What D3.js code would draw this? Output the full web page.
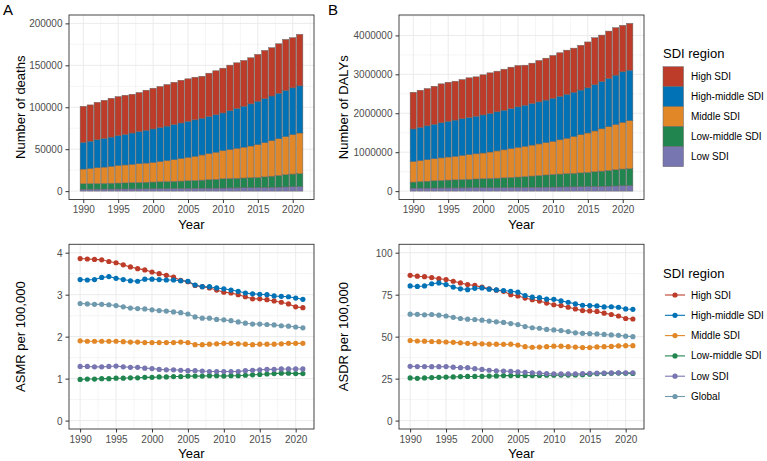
<!DOCTYPE html>
<html lang="en">
<head>
    <meta charset="UTF-8">
    <title>SDI region burden</title>
    <style>
        body { margin: 0; background: #fff; }
        text { font-family: "Liberation Sans", Arial, sans-serif; }
        .tick text { fill: #4d4d4d; font-size: 10px; }
        .tick line { stroke: #333; }
        .axis-title { font-size: 13px; fill: #000; }
    </style>
    <script src="https://d3js.org/d3.v7.min.js"></script>
</head>
<body>
    <svg width="767" height="461"></svg>
    <script>
        // Categories
        const years = [1990, 1991, 1992, 1993, 1994, 1995, 1996, 1997, 1998, 1999, 2000, 2001, 2002, 2003, 2004, 2005,
                       2006, 2007, 2008, 2009, 2010, 2011, 2012, 2013, 2014, 2015, 2016, 2017, 2018, 2019, 2020, 2021];
        const regions = ["High SDI", "High-middle SDI", "Middle SDI", "Low-middle SDI", "Low SDI"];
        const lineRegions = ["High SDI", "High-middle SDI", "Middle SDI", "Low-middle SDI", "Low SDI", "Global"];
        const colors = ["#BC3C29", "#0072B5", "#E18727", "#20854E", "#7876B1", "#6F99AD"];

        // Panel A: number of deaths
        const deathsHigh = [43000, 43250, 44700, 45550, 46300, 46600, 46700, 46250, 46600, 47750, 48600, 48900, 49600, 50450, 50950, 50700,
                            50800, 50100, 51700, 52500, 53400, 54400, 54500, 54600, 55000, 55950, 57500, 57600, 59100, 60900, 59800, 61400];
        const deathsHighMiddle = [31800, 32500, 33300, 34100, 34800, 35500, 36400, 37300, 38200, 39100, 39900, 40500, 41100, 41800, 42400, 43000,
                                  43400, 43800, 44200, 44600, 45000, 46200, 47500, 48800, 50200, 51700, 52500, 53300, 54100, 55000, 55800, 56200];
        const deathsMiddle = [17600, 18200, 18900, 19500, 20200, 21000, 21400, 21900, 22400, 22900, 23400, 24200, 25000, 25900, 26900, 27900,
                              28900, 30000, 31100, 32300, 33500, 34600, 35700, 36800, 37900, 39100, 40700, 42300, 43900, 45500, 47000, 48600];
        const deathsLowMiddle = [6400, 6500, 6600, 6700, 6900, 7050, 7200, 7400, 7600, 7800, 8000, 8200, 8400, 8600, 8850, 9100,
                                 9400, 9700, 10100, 10500, 11000, 11200, 11400, 11600, 11800, 12000, 12600, 13200, 13800, 14500, 15100, 15300];
        const deathsLow = [2300, 2350, 2400, 2450, 2500, 2550, 2600, 2650, 2700, 2750, 2800, 2900, 3000, 3050, 3100, 3200,
                           3300, 3400, 3500, 3600, 3700, 3800, 3900, 4000, 4100, 4250, 4400, 4600, 4800, 5000, 5200, 5400];

        // Panel B: number of DALYs
        const dalysHigh = [943000, 954000, 958000, 976000, 1001000, 1004000, 998000, 1009000, 1020000, 1011000, 1031000, 1044000, 1045000, 1055000, 1065000, 1063000,
                           1029000, 1038000, 1064000, 1077000, 1100000, 1119000, 1136000, 1132000, 1150000, 1179000, 1208000, 1194000, 1216000, 1219000, 1193000, 1203000];
        const dalysHighMiddle = [835000, 852000, 868000, 885000, 901000, 917000, 929000, 941000, 953000, 966000, 978000, 990000, 1003000, 1016000, 1028000, 1041000,
                                 1054000, 1067000, 1080000, 1094000, 1107000, 1117000, 1127000, 1138000, 1148000, 1159000, 1186000, 1213000, 1240000, 1268000, 1298000, 1295000];
        const dalysMiddle = [530000, 542000, 555000, 568000, 580000, 593000, 606000, 620000, 634000, 648000, 662000, 680000, 700000, 720000, 740000, 762000,
                             778000, 795000, 812000, 830000, 850000, 880000, 910000, 945000, 980000, 1015000, 1050000, 1088000, 1125000, 1163000, 1200000, 1237000];
        const dalysLowMiddle = [155000, 165000, 175000, 185000, 193000, 201000, 207000, 213000, 219000, 225000, 230000, 237000, 244000, 251000, 259000, 267000,
                                278000, 289000, 300000, 312000, 324000, 332000, 340000, 348000, 355000, 363000, 376000, 389000, 402000, 415000, 428000, 430000];
        const dalysLow = [77000, 78000, 79000, 80000, 81000, 82000, 83000, 84000, 85000, 86000, 87000, 88000, 89000, 90000, 92000, 94000,
                          96000, 98000, 100000, 102000, 104000, 106000, 108000, 110000, 113000, 116000, 120000, 124000, 128000, 133000, 139000, 144000];

        // Panel C: ASMR per 100,000
        const asmrHigh = [3.86, 3.85, 3.84, 3.83, 3.79, 3.76, 3.71, 3.66, 3.62, 3.59, 3.54, 3.50, 3.46, 3.42, 3.34, 3.31,
                          3.22, 3.19, 3.16, 3.11, 3.06, 3.04, 3.00, 2.95, 2.90, 2.90, 2.88, 2.85, 2.82, 2.78, 2.71, 2.69];
        const asmrHighMiddle = [3.36, 3.35, 3.36, 3.41, 3.43, 3.39, 3.36, 3.33, 3.32, 3.37, 3.37, 3.36, 3.35, 3.35, 3.33, 3.32,
                                3.23, 3.19, 3.19, 3.16, 3.14, 3.11, 3.08, 3.04, 3.02, 3.01, 3.00, 2.97, 2.96, 2.95, 2.92, 2.89];
        const asmrMiddle = [1.90, 1.89, 1.89, 1.89, 1.89, 1.89, 1.88, 1.87, 1.87, 1.86, 1.86, 1.86, 1.86, 1.86, 1.87, 1.86,
                            1.81, 1.81, 1.82, 1.83, 1.84, 1.84, 1.83, 1.82, 1.81, 1.82, 1.82, 1.82, 1.83, 1.84, 1.84, 1.84];
        const asmrLowMiddle = [0.98, 0.99, 0.99, 1.00, 1.00, 1.01, 1.01, 1.02, 1.02, 1.03, 1.03, 1.04, 1.04, 1.05, 1.05, 1.06,
                               1.06, 1.06, 1.07, 1.07, 1.06, 1.07, 1.07, 1.08, 1.09, 1.10, 1.11, 1.12, 1.13, 1.13, 1.12, 1.12];
        const asmrLow = [1.29, 1.29, 1.28, 1.28, 1.29, 1.30, 1.28, 1.27, 1.27, 1.25, 1.24, 1.22, 1.21, 1.21, 1.20, 1.19,
                         1.19, 1.18, 1.17, 1.17, 1.17, 1.17, 1.17, 1.19, 1.20, 1.21, 1.22, 1.22, 1.23, 1.23, 1.23, 1.23];
        const asmrGlobal = [2.79, 2.78, 2.77, 2.77, 2.76, 2.74, 2.71, 2.68, 2.67, 2.66, 2.64, 2.62, 2.61, 2.59, 2.57, 2.54,
                            2.47, 2.44, 2.44, 2.41, 2.40, 2.38, 2.35, 2.32, 2.30, 2.30, 2.29, 2.28, 2.26, 2.25, 2.23, 2.21];

        // Panel D: ASDR per 100,000
        const asdrHigh = [86.5, 86.0, 85.7, 85.2, 84.5, 84.0, 83.0, 82.0, 81.0, 80.5, 79.5, 78.5, 77.7, 77.0, 75.0, 74.2,
                          73.0, 72.0, 71.2, 70.0, 69.0, 68.5, 67.5, 66.5, 65.5, 65.3, 65.0, 64.0, 63.2, 62.3, 60.8, 60.5];
        const asdrHighMiddle = [80.2, 79.9, 80.2, 81.5, 82.0, 81.0, 79.5, 78.5, 78.0, 78.8, 79.0, 78.3, 77.8, 77.5, 77.0, 76.5,
                                74.5, 73.5, 73.2, 72.3, 72.2, 71.3, 70.5, 69.5, 68.7, 68.5, 68.3, 67.7, 67.8, 67.5, 66.5, 66.3];
        const asdrMiddle = [47.7, 47.4, 47.3, 47.1, 47.0, 46.8, 46.6, 46.3, 46.0, 45.8, 45.7, 45.5, 45.5, 45.4, 45.5, 45.0,
                            44.0, 43.7, 43.8, 44.0, 44.3, 44.3, 44.0, 43.8, 43.5, 43.5, 43.9, 44.0, 44.2, 44.5, 44.6, 44.6];
        const asdrLowMiddle = [25.4, 25.2, 25.4, 25.6, 25.8, 25.9, 26.0, 26.2, 26.3, 26.3, 26.4, 26.5, 26.6, 26.8, 26.8, 26.9,
                               26.9, 26.8, 26.9, 27.0, 27.0, 27.1, 27.1, 27.2, 27.3, 27.6, 27.9, 28.1, 28.2, 28.3, 28.2, 28.1];
        const asdrLow = [32.3, 32.2, 32.2, 32.1, 32.1, 32.2, 31.8, 31.5, 31.5, 30.9, 30.5, 30.0, 29.7, 29.5, 29.3, 29.0,
                         28.8, 28.5, 28.3, 28.0, 27.9, 27.8, 27.8, 27.9, 28.0, 28.2, 28.3, 28.3, 28.4, 28.5, 28.5, 28.5];
        const asdrGlobal = [63.4, 63.3, 63.0, 63.2, 62.8, 62.3, 61.5, 60.8, 60.4, 60.2, 59.8, 59.3, 58.8, 58.5, 57.8, 57.2,
                            56.0, 55.3, 55.0, 54.3, 54.0, 53.6, 53.0, 52.3, 52.0, 51.8, 51.6, 51.3, 51.0, 50.8, 50.3, 50.0];

        // Tick labels
        const yearTicks = [1990, 1995, 2000, 2005, 2010, 2015, 2020];
        const deathTicks = [0, 50000, 100000, 150000, 200000];
        const dalyTicks = [0, 1000000, 2000000, 3000000, 4000000];
        const asmrTicks = [0, 1, 2, 3, 4];
        const asdrTicks = [0, 25, 50, 75, 100];

        const svg = d3.select("svg");

        // ggplot-style continuous expansion (5% each side)
        function expand(lo, hi) {
            const pad = (hi - lo) * 0.05;
            return [lo - pad, hi + pad];
        }

        function midpoints(ticks, domain) {
            const step = ticks[1] - ticks[0];
            const out = [];
            for (let i = -1; i < ticks.length; i++) {
                const m = ticks[0] + step * (i + 0.5);
                if (m > domain[0] && m < domain[1]) out.push(m);
            }
            return out;
        }

        // Draws a theme_bw panel and returns its scales
        function makePanel(box, xDomain, yDomain, yTicks, yTitle, yTitleX) {
            const x = d3.scaleLinear().domain(xDomain).range([box.x0, box.x1]);
            const y = d3.scaleLinear().domain(yDomain).range([box.y1, box.y0]);
            const g = svg.append("g");

            g.append("rect")
                .attr("x", box.x0).attr("y", box.y0)
                .attr("width", box.x1 - box.x0).attr("height", box.y1 - box.y0)
                .attr("fill", "#fff");

            const grid = g.append("g").attr("stroke", "#ebebeb").attr("fill", "none");
            grid.selectAll(".minx").data(midpoints(yearTicks, xDomain)).join("line")
                .attr("x1", d => x(d)).attr("x2", d => x(d))
                .attr("y1", box.y0).attr("y2", box.y1).attr("stroke-width", 0.5);
            grid.selectAll(".miny").data(midpoints(yTicks, yDomain)).join("line")
                .attr("y1", d => y(d)).attr("y2", d => y(d))
                .attr("x1", box.x0).attr("x2", box.x1).attr("stroke-width", 0.5);
            grid.selectAll(".majx").data(yearTicks).join("line")
                .attr("x1", d => x(d)).attr("x2", d => x(d))
                .attr("y1", box.y0).attr("y2", box.y1).attr("stroke-width", 1);
            grid.selectAll(".majy").data(yTicks).join("line")
                .attr("y1", d => y(d)).attr("y2", d => y(d))
                .attr("x1", box.x0).attr("x2", box.x1).attr("stroke-width", 1);

            const xAxis = g.append("g")
                .attr("transform", `translate(0,${box.y1})`)
                .call(d3.axisBottom(x).tickValues(yearTicks).tickFormat(d3.format("d")).tickSize(3.5).tickPadding(3));
            xAxis.select(".domain").remove();

            const yAxis = g.append("g")
                .attr("transform", `translate(${box.x0},0)`)
                .call(d3.axisLeft(y).tickValues(yTicks).tickFormat(d3.format("d")).tickSize(3.5).tickPadding(3));
            yAxis.select(".domain").remove();
            yAxis.selectAll(".tick text").attr("dy", "0.35em");

            g.append("text").attr("class", "axis-title")
                .attr("x", (box.x0 + box.x1) / 2).attr("y", box.y1 + 29)
                .attr("text-anchor", "middle").text("Year");
            g.append("text").attr("class", "axis-title")
                .attr("transform", `translate(${yTitleX},${(box.y0 + box.y1) / 2}) rotate(-90)`)
                .attr("text-anchor", "middle").text(yTitle);

            const dataLayer = g.append("g");
            g.append("rect")
                .attr("x", box.x0).attr("y", box.y0)
                .attr("width", box.x1 - box.x0).attr("height", box.y1 - box.y0)
                .attr("fill", "none").attr("stroke", "#333").attr("stroke-width", 0.9);
            return { x, y, layer: dataLayer };
        }

        function drawBars(panel, seriesList) {
            // stack from the bottom: Low SDI first
            const keys = [4, 3, 2, 1, 0];
            const rows = years.map((yr, i) => {
                const r = { year: yr };
                keys.forEach(k => { r[k] = seriesList[k][i]; });
                return r;
            });
            const stacked = d3.stack().keys(keys)(rows);
            const barW = panel.x(0.9) - panel.x(0);
            panel.layer.selectAll("g").data(stacked).join("g")
                .attr("fill", d => colors[d.key])
                .selectAll("rect").data(d => d).join("rect")
                .attr("x", d => panel.x(d.data.year) - barW / 2)
                .attr("width", barW)
                .attr("y", d => panel.y(d[1]))
                .attr("height", d => panel.y(d[0]) - panel.y(d[1]))
                .attr("stroke", "#666").attr("stroke-width", 0.5);
        }

        function drawLines(panel, seriesList) {
            const line = d3.line().x((d, i) => panel.x(years[i])).y(d => panel.y(d));
            panel.layer.selectAll("path").data(seriesList).join("path")
                .attr("d", d => line(d))
                .attr("fill", "none")
                .attr("stroke", (d, i) => colors[i])
                .attr("stroke-width", 1.1);
            seriesList.forEach((s, k) => {
                panel.layer.append("g").attr("fill", colors[k])
                    .selectAll("circle").data(s).join("circle")
                    .attr("cx", (d, i) => panel.x(years[i]))
                    .attr("cy", d => panel.y(d))
                    .attr("r", 2.6);
            });
        }

        const barXDomain = expand(years[0] - 0.45, years[years.length - 1] + 0.45);
        const lineXDomain = expand(years[0], years[years.length - 1]);

        const deathSeries = [deathsHigh, deathsHighMiddle, deathsMiddle, deathsLowMiddle, deathsLow];
        const dalySeries = [dalysHigh, dalysHighMiddle, dalysMiddle, dalysLowMiddle, dalysLow];
        const dalyTotal = d3.max(years.map((yr, i) => d3.sum(dalySeries, s => s[i])));

        const pA = makePanel({ x0: 69, x1: 314, y0: 15, y1: 199.5 }, barXDomain,
            expand(0, 200000), deathTicks, "Number of deaths", 25);
        drawBars(pA, deathSeries);

        const pB = makePanel({ x0: 399, x1: 644, y0: 15, y1: 199.5 }, barXDomain,
            expand(0, dalyTotal), dalyTicks, "Number of DALYs", 348);
        drawBars(pB, dalySeries);

        const pC = makePanel({ x0: 69, x1: 314, y0: 244.3, y1: 429 }, lineXDomain,
            expand(0, 4), asmrTicks, "ASMR per 100,000", 25);
        drawLines(pC, [asmrHigh, asmrHighMiddle, asmrMiddle, asmrLowMiddle, asmrLow, asmrGlobal]);

        const pD = makePanel({ x0: 399, x1: 644, y0: 244.3, y1: 429 }, lineXDomain,
            expand(0, 100), asdrTicks, "ASDR per 100,000", 348);
        drawLines(pD, [asdrHigh, asdrHighMiddle, asdrMiddle, asdrLowMiddle, asdrLow, asdrGlobal]);

        // Panel tags
        svg.append("text").attr("x", 3).attr("y", 15).attr("font-size", 15).text("A");
        svg.append("text").attr("x", 328).attr("y", 15).attr("font-size", 15).text("B");

        // Legend for bars
        const legTop = svg.append("g").attr("transform", "translate(663,0)");
        legTop.append("text").attr("x", 0).attr("y", 58).attr("font-size", 13).text("SDI region");
        legTop.selectAll("rect").data(regions).join("rect")
            .attr("x", 0).attr("y", (d, i) => 66.7 + i * 20)
            .attr("width", 20.5).attr("height", 20)
            .attr("fill", (d, i) => colors[i])
            .attr("stroke", "#666").attr("stroke-width", 0.5);
        legTop.selectAll(".lab").data(regions).join("text")
            .attr("x", 28).attr("y", (d, i) => 76.7 + i * 20).attr("dy", "0.35em")
            .attr("font-size", 10).attr("fill", "#000").text(d => d);

        // Legend for lines
        const legBot = svg.append("g").attr("transform", "translate(663,0)");
        legBot.append("text").attr("x", 0).attr("y", 277.5).attr("font-size", 13).text("SDI region");
        const items = legBot.selectAll(".item").data(lineRegions).join("g")
            .attr("transform", (d, i) => `translate(0,${295 + i * 20.3})`);
        items.append("line").attr("x1", 2).attr("x2", 22)
            .attr("stroke", (d, i) => colors[i]).attr("stroke-width", 1.1);
        items.append("circle").attr("cx", 12).attr("r", 2.6).attr("fill", (d, i) => colors[i]);
        items.append("text").attr("x", 28).attr("dy", "0.35em")
            .attr("font-size", 10).text(d => d);
    </script>
</body>
</html>
